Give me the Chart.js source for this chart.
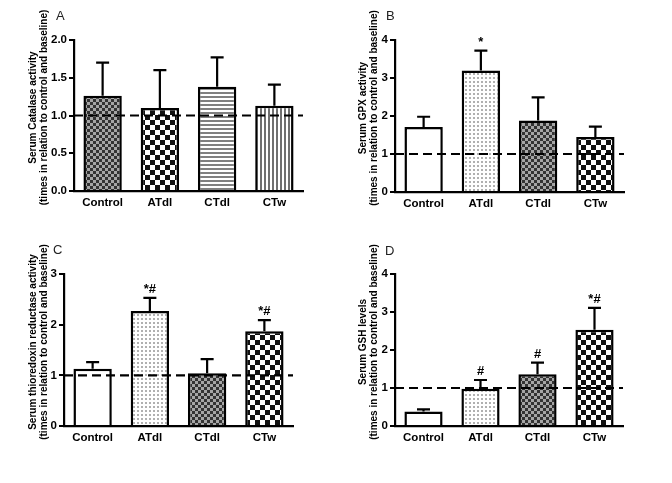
<!DOCTYPE html>
<html>
<head>
<meta charset="utf-8">
<script src="https://cdn.jsdelivr.net/npm/chart.js@4/dist/chart.umd.min.js"></script>
<style>
  html, body { margin: 0; padding: 0; background: #fff; }
  #wrap { position: relative; width: 672px; height: 483px; overflow: hidden; background: #fff; }
  .panel { position: absolute; }
</style>
</head>
<body>
<div id="wrap">
  <div class="panel" style="left:0;top:0;width:336px;height:225px"><canvas id="cA" width="336" height="225"></canvas></div>
  <div class="panel" style="left:336px;top:0;width:336px;height:225px"><canvas id="cB" width="336" height="225"></canvas></div>
  <div class="panel" style="left:0;top:225px;width:336px;height:258px"><canvas id="cC" width="336" height="258"></canvas></div>
  <div class="panel" style="left:336px;top:225px;width:336px;height:258px"><canvas id="cD" width="336" height="258"></canvas></div>
</div>
<script>
// ---------------- data ----------------
const categories = ['Control', 'ATdl', 'CTdl', 'CTw'];
const baseline = 1;

const catalaseMean = [1.26, 1.10, 1.38, 1.13];
const catalaseErr  = [0.44, 0.50, 0.39, 0.28];
const catalaseMarks = ['', '', '', ''];
const catalaseTicks = [0, 0.5, 1.0, 1.5, 2.0];

const gpxMean = [1.71, 3.20, 1.88, 1.45];
const gpxErr  = [0.27, 0.52, 0.61, 0.27];
const gpxMarks = ['', '*', '', ''];
const gpxTicks = [0, 1, 2, 3, 4];

const trxMean = [1.13, 2.27, 1.04, 1.87];
const trxErr  = [0.13, 0.26, 0.28, 0.22];
const trxMarks = ['', '*#', '', '*#'];
const trxTicks = [0, 1, 2, 3];

const gshMean = [0.38, 0.98, 1.36, 2.53];
const gshErr  = [0.06, 0.23, 0.31, 0.58];
const gshMarks = ['', '#', '#', '*#'];
const gshTicks = [0, 1, 2, 3, 4];

const titleLine2 = '(times in relation to control and baseline)';

// ---------------- fill patterns ----------------
function tile(w, h, draw) {
  const c = document.createElement('canvas');
  c.width = w; c.height = h;
  const x = c.getContext('2d');
  x.fillStyle = '#fff'; x.fillRect(0, 0, w, h);
  draw(x);
  return x.createPattern(c, 'repeat');
}
const patWhite = '#ffffff';
const patFine = tile(6, 6, x => {
  x.fillStyle = '#a5a5a5'; x.fillRect(0, 0, 6, 6);
  x.fillStyle = '#333'; x.fillRect(0, 0, 3, 3); x.fillRect(3, 3, 3, 3);
});
const patBig = tile(10, 10, x => {
  x.fillStyle = '#111'; x.fillRect(0, 0, 5, 5); x.fillRect(5, 5, 5, 5);
});
const patH = tile(1, 4, x => { x.fillStyle = '#808080'; x.fillRect(0, 0, 1, 2); });
const patV = tile(4, 1, x => { x.fillStyle = '#707070'; x.fillRect(0, 0, 2, 1); });
const patDots = tile(4, 4, x => { x.fillStyle = '#b0b0b0'; x.fillRect(1, 1, 2, 2); });

// ---------------- plugin: error bars, baseline, marks, panel letter ----------------
const extras = {
  id: 'extras',
  afterLayout(chart) {
    const s = chart.scales.y;
    if (s && !s._shiftWrapped) {
      const orig = s.drawTitle.bind(s);
      const shift = chart.options.plugins.extras.titleShift;
      s.drawTitle = function () {
        const ctx = this.ctx;
        ctx.save(); ctx.translate(0, shift); orig(); ctx.restore();
      };
      s._shiftWrapped = true;
    }
  },
  afterDatasetsDraw(chart) {
    const o = chart.options.plugins.extras;
    const ctx = chart.ctx;
    const ys = chart.scales.y;
    const meta = chart.getDatasetMeta(0);
    const ds = chart.data.datasets[0];
    ctx.save();
    ctx.strokeStyle = '#000';
    ctx.lineWidth = 2.2;
    ctx.lineCap = 'butt';
    meta.data.forEach((bar, i) => {
      const v = ds.data[i];
      const top = ys.getPixelForValue(v + o.err[i]);
      const base = ys.getPixelForValue(v);
      ctx.beginPath();
      ctx.moveTo(bar.x, base);
      ctx.lineTo(bar.x, top);
      ctx.moveTo(bar.x - 6.5, top);
      ctx.lineTo(bar.x + 6.5, top);
      ctx.stroke();
      if (o.marks[i]) {
        ctx.fillStyle = '#000';
        ctx.font = 'bold 13px "Liberation Sans", Arial, sans-serif';
        ctx.textAlign = 'center';
        ctx.textBaseline = 'bottom';
        ctx.fillText(o.marks[i], bar.x, top - 2);
      }
    });
    const yb = ys.getPixelForValue(baseline);
    ctx.setLineDash([9, 5]);
    ctx.lineWidth = 2.2;
    ctx.beginPath();
    ctx.moveTo(chart.chartArea.left, yb);
    ctx.lineTo(chart.chartArea.right, yb);
    ctx.stroke();
    ctx.setLineDash([]);
    ctx.restore();
  },
  afterDraw(chart) {
    const o = chart.options.plugins.extras;
    const ctx = chart.ctx;
    ctx.save();
    ctx.fillStyle = '#222';
    ctx.font = '13px "Liberation Sans", Arial, sans-serif';
    ctx.textAlign = 'left';
    ctx.textBaseline = 'middle';
    ctx.fillText(o.letter, o.letterX, o.letterY);
    ctx.restore();
  }
};

// ---------------- chart builder ----------------
function makeChart(id, cfg) {
  const font = '"Liberation Sans", Arial, sans-serif';
  return new Chart(document.getElementById(id), {
    type: 'bar',
    data: {
      labels: categories,
      datasets: [{
        data: cfg.mean,
        backgroundColor: cfg.fills,
        borderColor: '#000',
        borderWidth: 2.5,
        borderSkipped: 'start',
        categoryPercentage: 1.0,
        barPercentage: 0.67
      }]
    },
    options: {
      responsive: false,
      animation: false,
      devicePixelRatio: 1,
      layout: { padding: { top: cfg.padTop, right: cfg.padRight, left: 0, bottom: 0 } },
      plugins: {
        legend: { display: false },
        tooltip: { enabled: false },
        extras: {
          err: cfg.err, marks: cfg.marks, letter: cfg.letter,
          letterX: cfg.letterX, letterY: cfg.letterY, titleShift: -8
        }
      },
      scales: {
        x: {
          type: 'category',
          grid: { display: false, drawTicks: false },
          border: { display: true, color: '#000', width: 2.2 },
          ticks: { color: '#000', font: { family: font, size: 11.5, weight: 'bold' }, padding: 5, maxRotation: 0 },
          afterFit(s) { s.height = cfg.xHeight; }
        },
        y: {
          min: 0,
          max: cfg.ticks[cfg.ticks.length - 1],
          afterBuildTicks(s) { s.ticks = cfg.ticks.map(v => ({ value: v })); },
          grid: { display: true, drawOnChartArea: false, drawTicks: true, tickLength: 5, color: '#000', lineWidth: 2 },
          border: { display: true, color: '#000', width: 2.2 },
          ticks: {
            color: '#000',
            font: { family: font, size: 11.5, weight: 'bold' },
            padding: 2,
            callback: v => cfg.decimals ? Number(v).toFixed(cfg.decimals) : String(v)
          },
          title: {
            display: true,
            text: [cfg.title1, titleLine2],
            color: '#000',
            font: { family: font, size: 10, weight: 'bold', lineHeight: 1.1 },
            padding: { top: cfg.titlePad, bottom: 0 }
          },
          afterFit(s) { s.width = cfg.yWidth; }
        }
      }
    },
    plugins: [extras]
  });
}

makeChart('cA', {
  mean: catalaseMean, err: catalaseErr, marks: catalaseMarks, ticks: catalaseTicks, decimals: 1,
  fills: [patFine, patBig, patH, patV],
  title1: 'Serum Catalase activity',
  padTop: 40, padRight: 33, xHeight: 34, yWidth: 74, titlePad: 27.5,
  letter: 'A', letterX: 56, letterY: 16
});
makeChart('cB', {
  mean: gpxMean, err: gpxErr, marks: gpxMarks, ticks: gpxTicks, decimals: 0,
  fills: [patWhite, patDots, patFine, patBig],
  title1: 'Serum GPX activity',
  padTop: 40, padRight: 48, xHeight: 33, yWidth: 59, titlePad: 21.5,
  letter: 'B', letterX: 50, letterY: 16
});
makeChart('cC', {
  mean: trxMean, err: trxErr, marks: trxMarks, ticks: trxTicks, decimals: 0,
  fills: [patWhite, patDots, patFine, patBig],
  title1: 'Serum thioredoxin reductase activity',
  padTop: 49, padRight: 43, xHeight: 57, yWidth: 64, titlePad: 27.5,
  letter: 'C', letterX: 53, letterY: 25
});
makeChart('cD', {
  mean: gshMean, err: gshErr, marks: gshMarks, ticks: gshTicks, decimals: 0,
  fills: [patWhite, patDots, patFine, patBig],
  title1: 'Serum GSH levels',
  padTop: 49, padRight: 49, xHeight: 57, yWidth: 59, titlePad: 21.5,
  letter: 'D', letterX: 49, letterY: 26
});
</script>
</body>
</html>
